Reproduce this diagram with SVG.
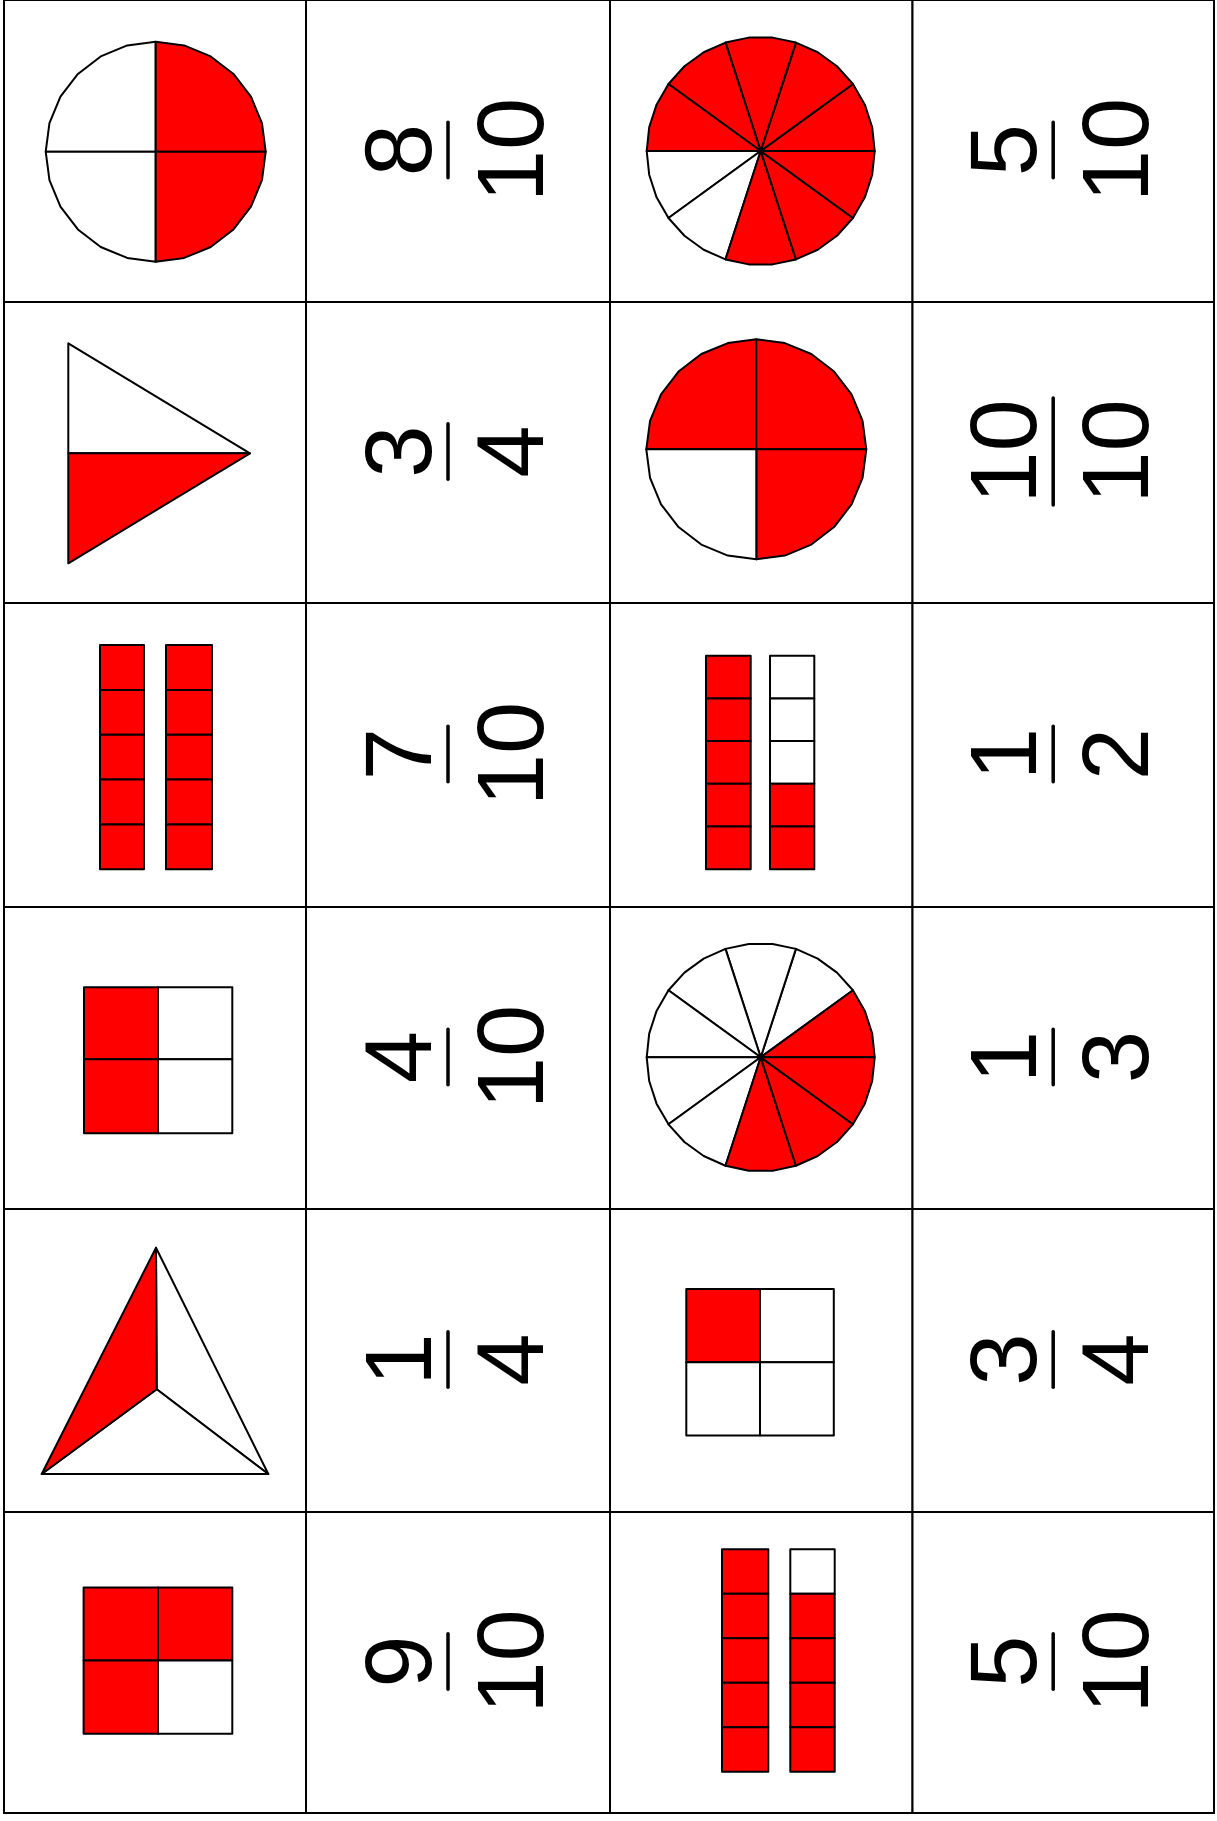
<svg xmlns="http://www.w3.org/2000/svg" xmlns:xlink="http://www.w3.org/1999/xlink" width="1217" height="1821" viewBox="0 0 1217 1821">
<style>
.cell{fill:#fff;stroke:#000;stroke-width:2}
.r{fill:#ff0000;stroke:#000;stroke-width:2;stroke-linejoin:round}
.w{fill:#fff;stroke:#000;stroke-width:2;stroke-linejoin:round}
.num{font-family:"Liberation Sans",Arial,sans-serif;font-size:94px;text-anchor:middle;fill:#000}
.bar{stroke:#000;stroke-width:3.5;stroke-linecap:round}
</style>
<defs>
<path id="qUR" d="M0,0 L110,0 L106.25,-28.47 L95.26,-55 L77.78,-77.78 L55,-95.26 L28.47,-106.25 L0,-110 Z"/>
<path id="qUL" d="M0,0 L0,-110 L-28.47,-106.25 L-55,-95.26 L-77.78,-77.78 L-95.26,-55 L-106.25,-28.47 L-110,0 Z"/>
<path id="qLL" d="M0,0 L-110,0 L-106.25,28.47 L-95.26,55 L-77.78,77.78 L-55,95.26 L-28.47,106.25 L0,110 Z"/>
<path id="qLR" d="M0,0 L0,110 L28.47,106.25 L55,95.26 L77.78,77.78 L95.26,55 L106.25,28.47 L110,0 Z"/>
<path id="s0" d="M0,0 L114,0 L111.51,-23.7 L104.14,-46.37 L92.23,-67.01 Z"/>
<path id="s1" d="M0,0 L92.23,-67.01 L76.28,-84.72 L57,-98.73 L35.23,-108.42 Z"/>
<path id="s2" d="M0,0 L35.23,-108.42 L11.92,-113.38 L-11.92,-113.38 L-35.23,-108.42 Z"/>
<path id="s3" d="M0,0 L-35.23,-108.42 L-57,-98.73 L-76.28,-84.72 L-92.23,-67.01 Z"/>
<path id="s4" d="M0,0 L-92.23,-67.01 L-104.14,-46.37 L-111.51,-23.7 L-114,0 Z"/>
<path id="s5" d="M0,0 L-114,0 L-111.51,23.7 L-104.14,46.37 L-92.23,67.01 Z"/>
<path id="s6" d="M0,0 L-92.23,67.01 L-76.28,84.72 L-57,98.73 L-35.23,108.42 Z"/>
<path id="s7" d="M0,0 L-35.23,108.42 L-11.92,113.38 L11.92,113.38 L35.23,108.42 Z"/>
<path id="s8" d="M0,0 L35.23,108.42 L57,98.73 L76.28,84.72 L92.23,67.01 Z"/>
<path id="s9" d="M0,0 L92.23,67.01 L104.14,46.37 L111.51,23.7 L114,0 Z"/>
</defs>

<g id="grid">
<rect class="cell" x="4" y="0" width="302" height="302"/>
<rect class="cell" x="306" y="0" width="304" height="302"/>
<rect class="cell" x="610" y="0" width="302.5" height="302"/>
<rect class="cell" x="912.5" y="0" width="301.5" height="302"/>
<rect class="cell" x="4" y="302" width="302" height="301"/>
<rect class="cell" x="306" y="302" width="304" height="301"/>
<rect class="cell" x="610" y="302" width="302.5" height="301"/>
<rect class="cell" x="912.5" y="302" width="301.5" height="301"/>
<rect class="cell" x="4" y="603" width="302" height="304"/>
<rect class="cell" x="306" y="603" width="304" height="304"/>
<rect class="cell" x="610" y="603" width="302.5" height="304"/>
<rect class="cell" x="912.5" y="603" width="301.5" height="304"/>
<rect class="cell" x="4" y="907" width="302" height="302"/>
<rect class="cell" x="306" y="907" width="304" height="302"/>
<rect class="cell" x="610" y="907" width="302.5" height="302"/>
<rect class="cell" x="912.5" y="907" width="301.5" height="302"/>
<rect class="cell" x="4" y="1209" width="302" height="303"/>
<rect class="cell" x="306" y="1209" width="304" height="303"/>
<rect class="cell" x="610" y="1209" width="302.5" height="303"/>
<rect class="cell" x="912.5" y="1209" width="301.5" height="303"/>
<rect class="cell" x="4" y="1512" width="302" height="301"/>
<rect class="cell" x="306" y="1512" width="304" height="301"/>
<rect class="cell" x="610" y="1512" width="302.5" height="301"/>
<rect class="cell" x="912.5" y="1512" width="301.5" height="301"/>
</g>

<!-- Row 0 -->
<g id="pic-r0c0" transform="translate(155.7,151.7)">
<use href="#qUL" class="w"/><use href="#qLL" class="w"/><use href="#qUR" class="r"/><use href="#qLR" class="r"/>
</g>
<g id="frac-r0c1" transform="translate(458,151) rotate(-90)">
<text class="num" x="1" y="-27">8</text>
<line class="bar" x1="-26.7" y1="-10" x2="28.7" y2="-10"/>
<text class="num" x="1" y="85">10</text>
</g>
<g id="pic-r0c2" transform="translate(760.7,151)">
<use href="#s0" class="r"/><use href="#s1" class="r"/><use href="#s2" class="r"/><use href="#s3" class="r"/><use href="#s4" class="r"/>
<use href="#s5" class="w"/><use href="#s6" class="w"/><use href="#s7" class="r"/><use href="#s8" class="r"/><use href="#s9" class="r"/>
</g>
<g id="frac-r0c3" transform="translate(1063.2,151) rotate(-90)">
<text class="num" x="1" y="-27">5</text>
<line class="bar" x1="-26.7" y1="-10" x2="28.7" y2="-10"/>
<text class="num" x="1" y="85">10</text>
</g>

<!-- Row 1 -->
<g id="pic-r1c0">
<polygon class="w" points="68.3,343.3 250,453.3 68.3,453.3"/>
<polygon class="r" points="68.3,453.3 250,453.3 68.3,563.3"/>
</g>
<g id="frac-r1c1" transform="translate(458,452.5) rotate(-90)">
<text class="num" x="1" y="-27">3</text>
<line class="bar" x1="-26.7" y1="-10" x2="28.7" y2="-10"/>
<text class="num" x="1" y="85">4</text>
</g>
<g id="pic-r1c2" transform="translate(756.3,449.3)">
<use href="#qUL" class="r"/><use href="#qUR" class="r"/><use href="#qLR" class="r"/><use href="#qLL" class="w"/>
</g>
<g id="frac-r1c3" transform="translate(1063.2,452.5) rotate(-90)">
<text class="num" x="1" y="-27">10</text>
<line class="bar" x1="-52.4" y1="-10" x2="54.4" y2="-10"/>
<text class="num" x="1" y="85">10</text>
</g>

<!-- Row 2 -->
<g id="pic-r2c0">
<rect class="r" x="100" y="645" width="44" height="44.9"/>
<rect class="r" x="100" y="689.9" width="44" height="44.8"/>
<rect class="r" x="100" y="734.7" width="44" height="44.9"/>
<rect class="r" x="100" y="779.6" width="44" height="44.8"/>
<rect class="r" x="100" y="824.4" width="44" height="44.9"/>
<rect class="r" x="166" y="645" width="46" height="44.9"/>
<rect class="r" x="166" y="689.9" width="46" height="44.8"/>
<rect class="r" x="166" y="734.7" width="46" height="44.9"/>
<rect class="r" x="166" y="779.6" width="46" height="44.8"/>
<rect class="r" x="166" y="824.4" width="46" height="44.9"/>
</g>
<g id="frac-r2c1" transform="translate(458,755) rotate(-90)">
<text class="num" x="1" y="-27">7</text>
<line class="bar" x1="-26.7" y1="-10" x2="28.7" y2="-10"/>
<text class="num" x="1" y="85">10</text>
</g>
<g id="pic-r2c2">
<rect class="r" x="706" y="655.7" width="44.7" height="42.7"/>
<rect class="r" x="706" y="698.4" width="44.7" height="42.7"/>
<rect class="r" x="706" y="741.1" width="44.7" height="42.7"/>
<rect class="r" x="706" y="783.8" width="44.7" height="42.8"/>
<rect class="r" x="706" y="826.6" width="44.7" height="42.7"/>
<rect class="w" x="770" y="655.7" width="44.3" height="42.7"/>
<rect class="w" x="770" y="698.4" width="44.3" height="42.7"/>
<rect class="w" x="770" y="741.1" width="44.3" height="42.7"/>
<rect class="r" x="770" y="783.8" width="44.3" height="42.8"/>
<rect class="r" x="770" y="826.6" width="44.3" height="42.7"/>
</g>
<g id="frac-r2c3" transform="translate(1063.2,755) rotate(-90)">
<text class="num" x="1" y="-27">1</text>
<line class="bar" x1="-26.7" y1="-10" x2="28.7" y2="-10"/>
<text class="num" x="1" y="85">2</text>
</g>

<!-- Row 3 -->
<g id="pic-r3c0">
<rect class="r" x="84" y="987.3" width="74" height="72"/>
<rect class="w" x="158" y="987.3" width="74.3" height="72"/>
<rect class="r" x="84" y="1059.3" width="74" height="74"/>
<rect class="w" x="158" y="1059.3" width="74.3" height="74"/>
</g>
<g id="frac-r3c1" transform="translate(458,1058) rotate(-90)">
<text class="num" x="1" y="-27">4</text>
<line class="bar" x1="-26.7" y1="-10" x2="28.7" y2="-10"/>
<text class="num" x="1" y="85">10</text>
</g>
<g id="pic-r3c2" transform="translate(760.7,1057.3)">
<use href="#s1" class="w"/><use href="#s2" class="w"/><use href="#s3" class="w"/><use href="#s4" class="w"/><use href="#s5" class="w"/><use href="#s6" class="w"/>
<use href="#s0" class="r"/><use href="#s7" class="r"/><use href="#s8" class="r"/><use href="#s9" class="r"/>
</g>
<g id="frac-r3c3" transform="translate(1063.2,1058) rotate(-90)">
<text class="num" x="1" y="-27">1</text>
<line class="bar" x1="-26.7" y1="-10" x2="28.7" y2="-10"/>
<text class="num" x="1" y="85">3</text>
</g>

<!-- Row 4 -->
<g id="pic-r4c0">
<polygon class="w" points="156,1247.7 268.3,1474 156.7,1389.3"/>
<polygon class="w" points="41.7,1474 156.7,1389.3 268.3,1474"/>
<polygon class="r" points="156,1247.7 156.7,1389.3 41.7,1474"/>
</g>
<g id="frac-r4c1" transform="translate(458,1360.5) rotate(-90)">
<text class="num" x="1" y="-27">1</text>
<line class="bar" x1="-26.7" y1="-10" x2="28.7" y2="-10"/>
<text class="num" x="1" y="85">4</text>
</g>
<g id="pic-r4c2">
<rect class="r" x="686.3" y="1289" width="73.7" height="73.2"/>
<rect class="w" x="760" y="1289" width="73.8" height="73.2"/>
<rect class="w" x="686.3" y="1362.2" width="73.7" height="73.2"/>
<rect class="w" x="760" y="1362.2" width="73.8" height="73.2"/>
</g>
<g id="frac-r4c3" transform="translate(1063.2,1360.5) rotate(-90)">
<text class="num" x="1" y="-27">3</text>
<line class="bar" x1="-26.7" y1="-10" x2="28.7" y2="-10"/>
<text class="num" x="1" y="85">4</text>
</g>

<!-- Row 5 -->
<g id="pic-r5c0">
<rect class="r" x="83.6" y="1587.5" width="74.4" height="73.1"/>
<rect class="r" x="158" y="1587.5" width="74.3" height="73.1"/>
<rect class="r" x="83.6" y="1660.6" width="74.4" height="73.2"/>
<rect class="w" x="158" y="1660.6" width="74.3" height="73.2"/>
</g>
<g id="frac-r5c1" transform="translate(458,1662.5) rotate(-90)">
<text class="num" x="1" y="-27">9</text>
<line class="bar" x1="-26.7" y1="-10" x2="28.7" y2="-10"/>
<text class="num" x="1" y="85">10</text>
</g>
<g id="pic-r5c2">
<rect class="r" x="722" y="1549.3" width="46.3" height="44.5"/>
<rect class="r" x="722" y="1593.8" width="46.3" height="44.4"/>
<rect class="r" x="722" y="1638.2" width="46.3" height="44.5"/>
<rect class="r" x="722" y="1682.7" width="46.3" height="44.5"/>
<rect class="r" x="722" y="1727.2" width="46.3" height="44.5"/>
<rect class="w" x="790.3" y="1549.3" width="44.4" height="44.5"/>
<rect class="r" x="790.3" y="1593.8" width="44.4" height="44.4"/>
<rect class="r" x="790.3" y="1638.2" width="44.4" height="44.5"/>
<rect class="r" x="790.3" y="1682.7" width="44.4" height="44.5"/>
<rect class="r" x="790.3" y="1727.2" width="44.4" height="44.5"/>
</g>
<g id="frac-r5c3" transform="translate(1063.2,1662.5) rotate(-90)">
<text class="num" x="1" y="-27">5</text>
<line class="bar" x1="-26.7" y1="-10" x2="28.7" y2="-10"/>
<text class="num" x="1" y="85">10</text>
</g>
</svg>
